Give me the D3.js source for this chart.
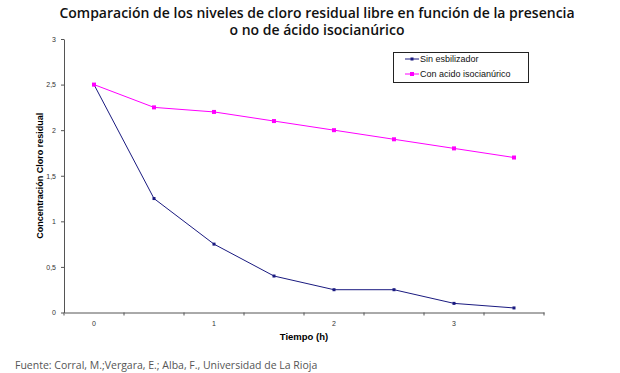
<!DOCTYPE html>
<html>
<head>
<meta charset="utf-8">
<script src="https://cdn.jsdelivr.net/npm/d3@7"></script>
<style>
  body { margin: 0; background: #fff; }
  svg { display: block; }
</style>
</head>
<body>
<div id="wrapper"></div>
<script>
const times = ["0", "0.5", "1", "1.5", "2", "2.5", "3", "3.5"];
const sinEstabilizador = [2.5, 1.25, 0.75, 0.4, 0.25, 0.25, 0.1, 0.05];
const conAcido = [2.5, 2.25, 2.2, 2.1, 2.0, 1.9, 1.8, 1.7];
const yTicks = [0, 0.5, 1, 1.5, 2, 2.5, 3];
const xLabels = ["0", "1", "2", "3"];

function buildPlot() {
    const dimension = {
        width: 620,
        height: 373,
        margin: { left: 64, right: 76, top: 39, bottom: 60 }
    };

    const svg = d3.select("#wrapper").append("svg")
        .attr("width", dimension.width)
        .attr("height", dimension.height);

    const x_scaler = d3.scaleBand()
        .domain(times)
        .range([dimension.margin.left, dimension.width - dimension.margin.right]);
    const y_scaler = d3.scaleLinear()
        .domain([0, 3])
        .range([dimension.height - dimension.margin.bottom - 0.5, dimension.margin.top]);

    // title
    const title = svg.append("text")
        .attr("text-anchor", "middle")
        .style("font-family", "'Open Sans', 'Noto Sans', sans-serif")
        .style("font-size", "14px")
        .style("font-weight", "600")
        .attr("fill", "#111");
    title.append("tspan").attr("x", 317).attr("y", 18)
        .text("Comparación de los niveles de cloro residual libre en función de la presencia");
    title.append("tspan").attr("x", 317).attr("y", 35)
        .text("o no de ácido isocianúrico");

    // axes
    const x_axis = d3.axisBottom(x_scaler).tickValues([]).tickSizeOuter(0);
    const y_axis = d3.axisLeft(y_scaler)
        .tickValues(yTicks)
        .tickSize(3)
        .tickSizeOuter(0)
        .tickFormat(d => String(d).replace(".", ","));

    const gx = svg.append("g")
        .attr("transform", `translate(0,${y_scaler(0)})`)
        .call(x_axis);
    gx.select(".domain").attr("stroke", "#555");
    // tick marks at band boundaries
    const bounds = times.map(t => x_scaler(t)).concat([x_scaler(times[times.length - 1]) + x_scaler.bandwidth()]);
    gx.selectAll("line.bt").data(bounds).join("line")
        .attr("class", "bt")
        .attr("x1", d => d).attr("x2", d => d)
        .attr("y1", 0).attr("y2", 3)
        .attr("stroke", "#555");
    gx.selectAll("text.lbl").data(xLabels).join("text")
        .attr("class", "lbl")
        .attr("x", d => x_scaler(d) + x_scaler.bandwidth() / 2)
        .attr("y", 13)
        .attr("text-anchor", "middle")
        .style("font-family", "'Liberation Sans', Arial, sans-serif")
        .style("font-size", "7px")
        .attr("fill", "#333")
        .text(d => d);

    const gy = svg.append("g")
        .attr("transform", `translate(${dimension.margin.left},0)`)
        .call(y_axis);
    gy.select(".domain").attr("stroke", "#555");
    gy.selectAll(".tick line").attr("stroke", "#555");
    gy.selectAll(".tick text")
        .attr("x", -8)
        .style("font-family", "'Liberation Sans', Arial, sans-serif")
        .style("font-size", "7px")
        .attr("fill", "#333");

    // axis titles
    svg.append("text")
        .attr("text-anchor", "middle")
        .attr("transform", `translate(43, ${y_scaler(1.5)}) rotate(-90)`)
        .style("font-family", "'Liberation Sans', Arial, sans-serif")
        .style("font-size", "9px")
        .style("font-weight", "bold")
        .text("Concentración Cloro residual");

    svg.append("text")
        .attr("x", (x_scaler.range()[0] + x_scaler.range()[1]) / 2)
        .attr("y", 340)
        .attr("text-anchor", "middle")
        .style("font-family", "'Liberation Sans', Arial, sans-serif")
        .style("font-size", "9.5px")
        .style("font-weight", "bold")
        .text("Tiempo (h)");

    // lines
    const cx = (d, i) => x_scaler(times[i]) + x_scaler.bandwidth() / 2;
    const line = d3.line().x(cx).y(d => y_scaler(d));

    const series = [
        { name: "Sin esbilizador", values: sinEstabilizador, color: "#1a1a80", size: 3 },
        { name: "Con acido isocianúrico", values: conAcido, color: "#ff00ff", size: 4 }
    ];

    series.forEach(s => {
        svg.append("path")
            .attr("fill", "none")
            .attr("stroke", s.color)
            .attr("stroke-width", 1)
            .attr("d", line(s.values));
        svg.selectAll(null).data(s.values).join("rect")
            .attr("x", (d, i) => cx(d, i) - s.size / 2)
            .attr("y", d => y_scaler(d) - s.size / 2)
            .attr("width", s.size)
            .attr("height", s.size)
            .attr("fill", s.color);
    });

    // legend
    const legend = svg.append("g").attr("transform", "translate(393,52)");
    legend.append("rect")
        .attr("x", 0.5).attr("y", 0.5)
        .attr("width", 135).attr("height", 30)
        .attr("fill", "#fff")
        .attr("stroke", "#222");
    series.forEach((s, i) => {
        const yy = 7 + i * 15;
        legend.append("line")
            .attr("x1", 12).attr("x2", 26)
            .attr("y1", yy).attr("y2", yy)
            .attr("stroke", s.color);
        legend.append("rect")
            .attr("x", 19 - s.size / 2).attr("y", yy - s.size / 2)
            .attr("width", s.size).attr("height", s.size)
            .attr("fill", s.color);
        legend.append("text")
            .attr("x", 27).attr("y", yy + 3)
            .style("font-family", "'Liberation Sans', Arial, sans-serif")
            .style("font-size", "9px")
            .attr("fill", "#111")
            .text(s.name);
    });

    // source
    svg.append("text")
        .attr("x", 15).attr("y", 369)
        .style("font-family", "'Open Sans', 'Noto Sans', sans-serif")
        .style("font-size", "10.5px")
        .attr("fill", "#555")
        .text("Fuente: Corral, M.;Vergara, E.; Alba, F., Universidad de La Rioja");
}
buildPlot();
</script>
</body>
</html>
